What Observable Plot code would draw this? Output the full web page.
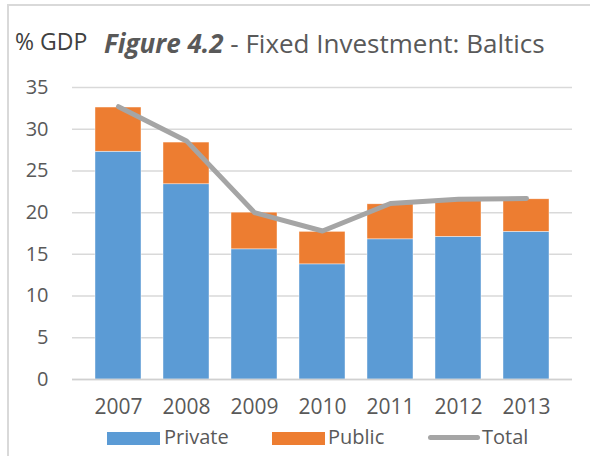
<!DOCTYPE html>
<html>
<head>
<meta charset="utf-8">
<script src="https://cdn.jsdelivr.net/npm/d3@7"></script>
<script src="https://cdn.jsdelivr.net/npm/@observablehq/plot@0.6"></script>
<style>
  html, body { margin: 0; padding: 0; background: #fff; }
  #wrap { position: relative; width: 590px; height: 456px; overflow: hidden; font-family: "Open Sans", sans-serif; color: #595959; }
  #frame { position: absolute; left: 7px; top: 4px; width: 600px; height: 500px; border-left: 2px solid #d9d9d9; border-top: 2px solid #d9d9d9; }
  #chart { position: absolute; left: 0; top: 0; }
  .t { position: absolute; white-space: nowrap; line-height: 1; }
  .sw { position: absolute; }
</style>
</head>
<body>
<div id="wrap">
  <div id="frame"></div>
  <div id="chart"></div>
  <div class="t" style="left:15px; top:30px; font-size:23px; color:#404040;">% GDP</div>
  <div class="t" style="left:104px; top:30px; font-size:26px; color:#595959;"><b><i>Figure 4.2</i></b> - Fixed Investment: Baltics</div>
  <div id="legend"></div>
</div>
<script>
const years = ["2007", "2008", "2009", "2010", "2011", "2012", "2013"];
const privateVals = [27.3, 23.4, 15.6, 13.8, 16.8, 17.1, 17.7];
const publicVals = [5.3, 5.0, 4.4, 3.9, 4.2, 4.3, 3.9];
const totalVals = [32.7, 28.6, 20.0, 17.8, 21.1, 21.6, 21.7];
const yTicks = [0, 5, 10, 15, 20, 25, 30, 35];
const seriesNames = ["Private", "Public", "Total"];
const seriesColors = ["#5b9bd5", "#ed7d31", "#a5a5a5"];

const rows = [];
years.forEach((y, i) => {
  rows.push({year: y, type: "Private", value: privateVals[i]});
  rows.push({year: y, type: "Public", value: publicVals[i]});
});
const totals = years.map((y, i) => ({year: y, value: totalVals[i]}));

const chart = Plot.plot({
  width: 590,
  height: 456,
  marginTop: 87,
  marginBottom: 77,
  marginLeft: 72,
  marginRight: 18,
  style: {fontFamily: "Open Sans, sans-serif", fontSize: "20px", color: "#595959", background: "transparent", overflow: "visible"},
  x: {domain: years, padding: 0.33, label: null},
  y: {domain: [0, 35], label: null},
  color: {domain: seriesNames.slice(0, 2), range: seriesColors.slice(0, 2)},
  marks: [
    Plot.gridY(yTicks, {stroke: "#d9d9d9", strokeOpacity: 1, strokeWidth: 1.5}),
    Plot.axisY(yTicks, {tickSize: 0, tickPadding: 24, fontSize: 20, fill: "#595959", label: null}),
    Plot.axisX({tickSize: 0, tickPadding: 20, fontSize: 21, fill: "#595959", label: null}),
    Plot.barY(rows, {x: "year", y: "value", fill: "type", order: ["Private", "Public"], stroke: "#ffffff", strokeWidth: 0.6, strokeOpacity: 0.7}),
    Plot.ruleY([0], {stroke: "#d0d0d0", strokeWidth: 1.5}),
    Plot.line(totals, {x: "year", y: "value", stroke: seriesColors[2], strokeWidth: 5, strokeLinecap: "round", strokeLinejoin: "round"})
  ]
});
document.getElementById("chart").appendChild(chart);

// legend
const legend = document.getElementById("legend");
const items = [
  {name: seriesNames[0], color: seriesColors[0], kind: "box", x: 107, tx: 164},
  {name: seriesNames[1], color: seriesColors[1], kind: "box", x: 272, tx: 328},
  {name: seriesNames[2], color: seriesColors[2], kind: "line", x: 428, tx: 482}
];
items.forEach(it => {
  const s = document.createElement("div");
  s.className = "sw";
  if (it.kind === "box") {
    s.style.cssText = `left:${it.x}px; top:432px; width:53px; height:13px; background:${it.color};`;
  } else {
    s.style.cssText = `left:${it.x}px; top:435px; width:52px; height:5px; border-radius:3px; background:${it.color};`;
  }
  legend.appendChild(s);
  const t = document.createElement("div");
  t.className = "t";
  t.style.cssText = `left:${it.tx}px; top:427px; font-size:20px; color:#595959;`;
  t.textContent = it.name;
  legend.appendChild(t);
});
</script>
</body>
</html>
